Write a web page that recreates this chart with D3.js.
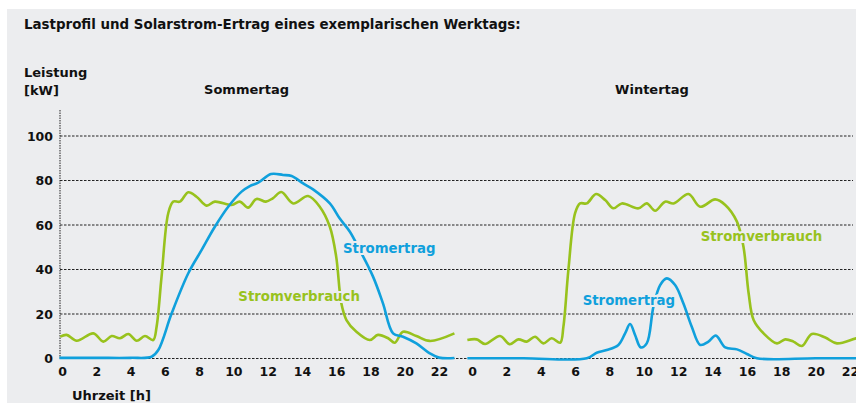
<!DOCTYPE html>
<html><head><meta charset="utf-8">
<script src="https://cdn.jsdelivr.net/npm/d3@7"></script>
<style>
html,body{margin:0;padding:0;background:#fff;}
svg{display:block;}
text{font-family:"DejaVu Sans",sans-serif;font-weight:bold;}
</style></head>
<body>
<svg id="c" width="856" height="403"></svg>
<script>
// ---- data ----
const title = "Lastprofil und Solarstrom-Ertrag eines exemplarischen Werktags:";
const yTicks = [0, 20, 40, 60, 80, 100];
const xTicks = [0, 2, 4, 6, 8, 10, 12, 14, 16, 18, 20, 22];
const panelNames = ["Sommertag", "Wintertag"];

const summerLoadH  = [-0.1,0.27,0.86,1.83,2.41,2.9,3.38,3.87,4.36,4.84,5.32,5.52,5.81,6.2,6.49,6.88,7.37,7.85,8.44,8.92,9.9,10.38,10.86,11.35,11.9,12.3,12.8,13.49,14.36,15.04,15.63,16.0,16.3,16.6,17.18,17.96,18.44,19.03,19.42,19.9,20.68,21.46,22.9];
const summerLoadKW = [9.8,10.6,8.0,11.3,7.6,10.1,9.1,11.0,8.0,10.1,8.3,14.3,36.8,65.3,70.5,70.5,74.7,72.7,68.7,70.5,69.0,70.5,67.8,71.7,70.5,72.0,74.8,69.7,73.0,68.2,59.2,45.8,24.8,17.3,12.0,8.3,10.6,9.1,7.1,12.0,10.1,7.9,11.3];

const summerPvH  = [-0.15,2,4,5.23,5.62,6.4,7.37,8.15,8.92,9.7,10.48,10.96,11.45,12.2,12.9,13.4,14.07,14.65,15.63,16.2,16.8,17.37,18.15,18.73,19.32,19.9,20.68,21.46,22.0,22.9];
const summerPvKW = [0.3,0.3,0.3,0.8,3.8,20.3,38.3,48.8,59.2,68.2,75.0,77.5,79.0,82.9,82.5,82.0,78.7,76.0,69.7,63.0,57.0,48.8,36.8,24.8,11.3,9.8,6.8,2.3,0.4,0.2];

const winterLoadH  = [-0.27,0.27,0.76,1.63,2.2,2.7,3.19,3.67,4.15,4.64,5.13,5.32,5.61,6.0,6.29,6.68,7.22,7.75,8.23,8.72,9.69,10.17,10.66,11.24,11.73,12.6,13.28,14.15,14.74,15.42,15.8,16.1,16.39,16.97,17.75,18.23,18.71,19.2,19.78,20.56,21.24,22.36,23.0];
const winterLoadKW = [8.3,8.6,6.5,10.1,6.4,8.6,7.6,9.8,6.8,9.1,7.1,14.3,39.8,65.3,69.7,69.7,73.9,71.2,67.5,69.7,67.5,69.7,66.4,70.5,69.7,73.9,68.2,71.5,69.0,61.5,50.2,29.3,17.3,11.3,6.8,8.6,7.6,5.6,11.0,9.4,6.8,9.1,10.0];

const winterPvH  = [-0.27,3,6.68,7.26,7.84,8.52,8.91,9.2,9.49,9.82,10.17,10.56,10.95,11.34,11.82,12.3,12.79,13.28,13.76,14.19,14.74,15.42,16.0,16.58,20,23.0];
const winterPvKW = [0.1,0.1,0.1,2.6,3.8,6.1,11.3,15.5,10.6,5.0,6.8,23.3,33.0,36.0,33.0,24.8,14.3,6.1,7.6,10.3,5.0,4.1,2.0,0.1,0.1,0.1];

const seriesLabels = [
  {panel:0, text:"Stromertrag", kind:"pv", h:16.4, v:47.5},
  {panel:0, text:"Stromverbrauch", kind:"load", h:10.29, v:26},
  {panel:1, text:"Stromertrag", kind:"pv", h:6.44, v:24},
  {panel:1, text:"Stromverbrauch", kind:"load", h:13.31, v:52.8}
];

// ---- drawing ----
const BG = "#ecedef", GREEN = "#98c21d", BLUE = "#10a0dc";
const svg = d3.select("#c");
svg.append("rect").attr("x",7).attr("y",9).attr("width",849).attr("height",394).attr("fill",BG);

svg.append("text").attr("x",24).attr("y",29).attr("font-size",13.4).attr("fill","#111").text(title);
svg.append("text").attr("x",24).attr("y",77).attr("font-size",13).attr("fill","#111").text("Leistung");
svg.append("text").attr("x",24).attr("y",95).attr("font-size",13).attr("fill","#111").text("[kW]");

const y = d3.scaleLinear().domain([0,100]).range([358.5,136]);
const xs = [
  d3.scaleLinear().domain([0,22]).range([62,439]),
  d3.scaleLinear().domain([0,22]).range([472,850])
];
const panelCenters = [246.5, 652];

// grid
const grid = svg.append("g");
grid.selectAll("line").data(yTicks).join("line")
  .attr("x1",60).attr("x2",d=>d===0?856:853)
  .attr("y1",d=>y(d)).attr("y2",d=>y(d))
  .attr("stroke","#222").attr("stroke-width",1).attr("stroke-dasharray","2.5,1.5");
// y axis
svg.append("line").attr("x1",60).attr("x2",60).attr("y1",110).attr("y2",y(0))
  .attr("stroke","#222").attr("stroke-width",1).attr("stroke-dasharray","1.5,1");
const yAxis = d3.axisLeft(y).tickValues(yTicks).tickSize(0).tickPadding(7);
const gy = svg.append("g").attr("transform","translate(60,0)").call(yAxis);
gy.select(".domain").remove();
gy.selectAll("text").attr("font-size",12.5).attr("fill","#111").style("font-family","'DejaVu Sans',sans-serif").style("font-weight","bold");

// x axes
xs.forEach((x,i)=>{
  const ax = d3.axisBottom(x).tickValues(xTicks).tickSize(0).tickPadding(9);
  const g = svg.append("g").attr("transform",`translate(0,${y(0)})`).call(ax);
  g.select(".domain").remove();
  g.selectAll("text").attr("font-size",12.5).attr("fill","#111").style("font-family","'DejaVu Sans',sans-serif").style("font-weight","bold");
  svg.append("text").attr("x",panelCenters[i]).attr("y",94).attr("text-anchor","middle")
    .attr("font-size",13).attr("fill","#111").text(panelNames[i]);
});
svg.append("text").attr("x",72).attr("y",400).attr("font-size",13).attr("fill","#111").text("Uhrzeit [h]");

// lines
const series = [
  {panel:0,h:summerLoadH,v:summerLoadKW,c:GREEN},
  {panel:0,h:summerPvH,v:summerPvKW,c:BLUE},
  {panel:1,h:winterLoadH,v:winterLoadKW,c:GREEN},
  {panel:1,h:winterPvH,v:winterPvKW,c:BLUE}
];
series.forEach(s=>{
  const x = xs[s.panel];
  const line = d3.line().x(d=>x(d[0])).y(d=>y(d[1])).curve(d3.curveCatmullRom.alpha(0.5));
  svg.append("path").datum(d3.zip(s.h,s.v)).attr("d",line)
    .attr("fill","none").attr("stroke",s.c).attr("stroke-width",2.6).attr("stroke-linejoin","round");
});

// series labels
seriesLabels.forEach(l=>{
  svg.append("text").attr("x",xs[l.panel](l.h)).attr("y",y(l.v))
    .attr("font-size",13.3).attr("fill",l.kind==="pv"?BLUE:GREEN)
    .attr("stroke",BG).attr("stroke-width",4).attr("paint-order","stroke")
    .text(l.text);
});
</script>
</body></html>
